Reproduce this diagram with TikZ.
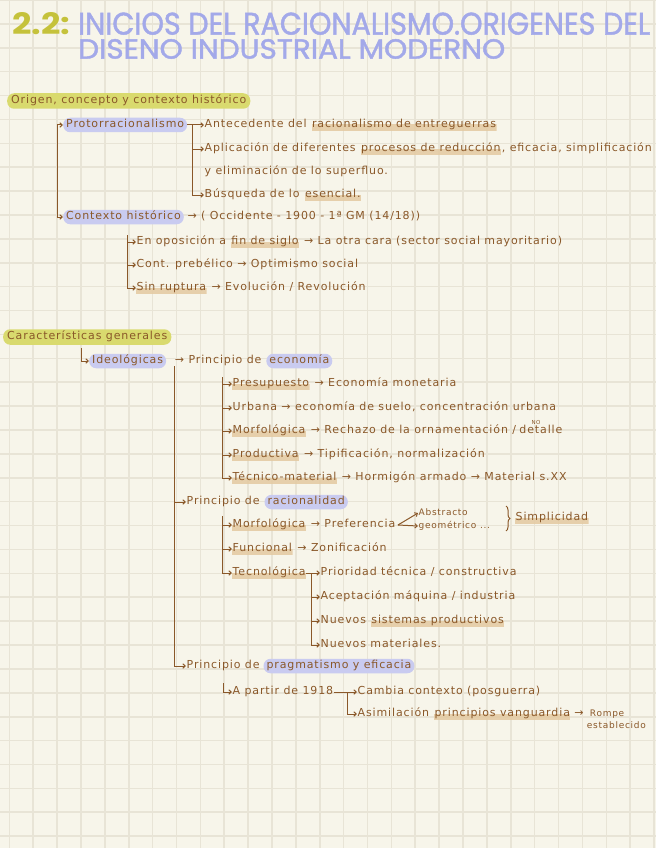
\documentclass[tikz,border=0pt]{standalone}
\usepackage{fontspec}
\usepackage{graphicx}
\usetikzlibrary{arrows.meta,decorations.pathreplacing}
\newfontfamily\hand{DejaVu Sans}[LetterSpace=8]
\newfontfamily\titlef{Poppins}
\definecolor{bgc}{HTML}{F7F5EA}
\definecolor{gridc}{HTML}{E8E4D6}
\definecolor{brn}{HTML}{8A5829}
\definecolor{ylw}{HTML}{D9DA6E}
\definecolor{lav}{HTML}{C9CBF0}
\definecolor{tanc}{HTML}{E4C9A1}
\definecolor{ttl}{HTML}{A3A9E9}
\definecolor{ttlnum}{HTML}{C5C23B}
\tikzset{
  txt/.style={inner xsep=0.5pt, inner ysep=1pt, text height=8pt, text depth=2.5pt,
    anchor=west, font=\hand\fontsize{11}{13}\selectfont, text=brn},
  smalltxt/.style={txt, font=\hand\fontsize{9}{10}\selectfont, text height=6.5pt, text depth=2pt},
  notxt/.style={inner sep=0pt, font=\hand\fontsize{5.5}{6}\selectfont, text=brn},
  yhl/.style={txt, fill=ylw, rounded corners=7pt, inner xsep=4pt, inner ysep=2.5pt},
  lhl/.style={txt, fill=lav, rounded corners=7pt, inner xsep=3pt, inner ysep=2pt},
  thl/.style={txt, path picture={\fill[tanc, opacity=0.85] ([yshift=0.5pt]path picture bounding box.west) rectangle (path picture bounding box.south east);}},
  conn/.style={draw=brn, line width=1pt},
  arr/.style={conn, -{Straight Barb[length=2.5pt,width=4.5pt]}},
  gridline/.style={gridc, line width=1.6pt},
  titlebox/.style={inner sep=0pt, anchor=south west, text=ttl},
}
\begin{document}
\begin{tikzpicture}[x=1pt,y=-1pt]
\useasboundingbox (0,0) rectangle (656,848);
\fill[bgc] (0,0) rectangle (656,848);
\foreach \i in {0,...,27} \draw[gridline] (9.3+23.88*\i,0) -- (9.3+23.88*\i,848);
\foreach \j in {0,...,35} \draw[gridline] (0,23.89*\j) -- (656,23.89*\j);

% title
\node[titlebox, text=ttlnum] (num) at (12,35) {\resizebox{58pt}{22pt}{\titlef\bfseries 2.2:}};
\node[titlebox] (title1) at (78,35) {\resizebox{572pt}{22pt}{\titlef\addfontfeature{FakeBold=1.5} INICIOS DEL RACIONALISMO.ORIGENES DEL}};
\node[titlebox] (title2) at (78,59) {\resizebox{427pt}{19.5pt}{\titlef\addfontfeature{FakeBold=1.5} DISENO INDUSTRIAL MODERNO}};

% section 1
\node[yhl] (origen) at (7,101) {Origen, concepto y contexto histórico};
\node[lhl] (proto) at (63,125) {Protorracionalismo};
\node[txt] (ant1) at (204,125) {Antecedente del};
\node[thl] (ant2) at ([xshift=4pt]ant1.east) {racionalismo de entreguerras};
\node[txt] (apl1) at (204,149) {Aplicación de diferentes};
\node[thl] (apl2) at ([xshift=4pt]apl1.east) {procesos de reducción};
\node[txt] (apl3) at (apl2.east) {, eficacia, simplificación};
\node[txt] (elim) at (204,172) {y eliminación de lo superfluo.};
\node[txt] (bus1) at (204,195) {Búsqueda de lo};
\node[thl] (bus2) at ([xshift=4pt]bus1.east) {esencial.};
\node[lhl] (ctx) at (63,217) {Contexto histórico};
\node[txt] (ctx2) at ([xshift=3pt]ctx.east) {→ ( Occidente - 1900 - 1ª GM (14/18))};
\node[txt] (opo1) at (136,242) {En oposición a};
\node[thl] (opo2) at ([xshift=4pt]opo1.east) {fin de siglo};
\node[txt] (opo3) at ([xshift=4pt]opo2.east) {→ La otra cara (sector social mayoritario)};
\node[txt] (preb) at (136,265) {Cont. prebélico → Optimismo social};
\node[thl] (rup1) at (136,288) {Sin ruptura};
\node[txt] (rup2) at ([xshift=4pt]rup1.east) {→ Evolución / Revolución};

\coordinate (v1) at (57,125);
\draw[arr] (v1) -- (proto.west);
\draw[arr] (v1) |- (ctx.west);
\coordinate (v2) at (192,125);
\draw[arr] (proto.east) -- (ant1.west);
\draw[arr] (v2) |- (apl1.west);
\draw[arr] (v2) |- (bus1.west);
\coordinate (v3) at (127,235);
\draw[arr] (v3) |- (opo1.west);
\draw[arr] (v3) |- (preb.west);
\draw[arr] (v3) |- (rup1.west);

% section 2
\node[yhl] (carac) at (3,337) {Características generales};
\node[lhl] (ideo) at (89,361) {Ideológicas};
\node[txt] (eco1) at ([xshift=8pt]ideo.east) {→ Principio de};
\node[lhl] (eco2) at ([xshift=4pt]eco1.east) {economía};

\node[thl] (pres1) at (232,384) {Presupuesto};
\node[txt] (pres2) at ([xshift=4pt]pres1.east) {→ Economía monetaria};
\node[txt] (urb) at (232,408) {Urbana → economía de suelo, concentración urbana};
\node[thl] (mor1) at (232,431) {Morfológica};
\node[txt] (mor2) at ([xshift=4pt]mor1.east) {→ Rechazo de la ornamentación /};
\node[txt] (mor3) at ([xshift=2pt]mor2.east) {detalle};
\node[notxt, anchor=south] (no) at ([xshift=-5pt]mor3.north) {NO};
\node[thl] (prod1) at (232,455) {Productiva};
\node[txt] (prod2) at ([xshift=4pt]prod1.east) {→ Tipificación, normalización};
\node[thl] (tec1) at (232,478) {Técnico-material};
\node[txt] (tec2) at ([xshift=4pt]tec1.east) {→ Hormigón armado → Material s.XX};

\node[txt] (rac1) at (186,502) {Principio de};
\node[lhl] (rac2) at ([xshift=4pt]rac1.east) {racionalidad};
\node[thl] (morf1) at (232,525) {Morfológica};
\node[txt] (pref) at ([xshift=4pt]morf1.east) {→ Preferencia};
\node[smalltxt] (abs) at (418,513) {Abstracto};
\node[smalltxt] (geo) at (418,526) {geométrico ...};
\coordinate (br1) at (506,506);
\coordinate (br2) at (506,531);
\draw[conn, decorate, decoration={brace, amplitude=4pt}] (br1) -- (br2);
\node[thl] (simp) at (515,518) {Simplicidad};
\node[thl] (fun1) at (232,549) {Funcional};
\node[txt] (fun2) at ([xshift=4pt]fun1.east) {→ Zonificación};
\node[thl] (tecn) at (232,573) {Tecnológica};
\node[txt] (t1) at (320,573) {Prioridad técnica / constructiva};
\node[txt] (t2) at (320,597) {Aceptación máquina / industria};
\node[txt] (t3a) at (320,621) {Nuevos};
\node[thl] (t3b) at ([xshift=4pt]t3a.east) {sistemas productivos};
\node[txt] (t4) at (320,645) {Nuevos materiales.};

\node[txt] (prag1) at (186,666) {Principio de};
\node[lhl] (prag2) at ([xshift=3pt]prag1.east) {pragmatismo y eficacia};
\node[txt] (partir) at (232,692) {A partir de 1918};
\node[txt] (camb) at (357,692) {Cambia contexto (posguerra)};
\node[txt] (asim1) at (357,714) {Asimilación};
\node[thl] (asim2) at ([xshift=4pt]asim1.east) {principios vanguardia};
\node[txt] (asim3) at ([xshift=3pt]asim2.east) {→};
\node[smalltxt] (rompe) at ([xshift=5pt]asim3.east) {Rompe};
\node[smalltxt] (estab) at ([yshift=-12pt,xshift=-3pt]rompe.west) {establecido};

\coordinate (h1) at (81,348);
\draw[arr] (h1) |- (ideo.west);
\coordinate (v4) at (174,366);
\draw[arr] (v4) |- (rac1.west);
\draw[arr] (v4) |- (prag1.west);
\coordinate (v5) at (222,377);
\draw[arr] (v5) |- (pres1.west);
\draw[arr] (v5) |- (urb.west);
\draw[arr] (v5) |- (mor1.west);
\draw[arr] (v5) |- (prod1.west);
\draw[arr] (v5) |- (tec1.west);
\coordinate (v6) at (222,516);
\draw[arr] (v6) |- (morf1.west);
\draw[arr] (v6) |- (fun1.west);
\draw[arr] (v6) |- (tecn.west);
\draw[arr] (tecn.east) -- (t1.west);
\coordinate (v7) at (311,573);
\draw[arr] (v7) |- (t2.west);
\draw[arr] (v7) |- (t3a.west);
\draw[arr] (v7) |- (t4.west);
\draw[arr] ([xshift=2pt]pref.east) -- (abs.west);
\draw[arr] ([xshift=2pt]pref.east) -- (geo.west);
\coordinate (h2) at (223,683);
\draw[arr] (h2) |- (partir.west);
\coordinate (b1) at (347,692);
\draw[arr] (partir.east) -- (camb.west);
\draw[arr] (b1) |- (asim1.west);
\end{tikzpicture}
\end{document}
